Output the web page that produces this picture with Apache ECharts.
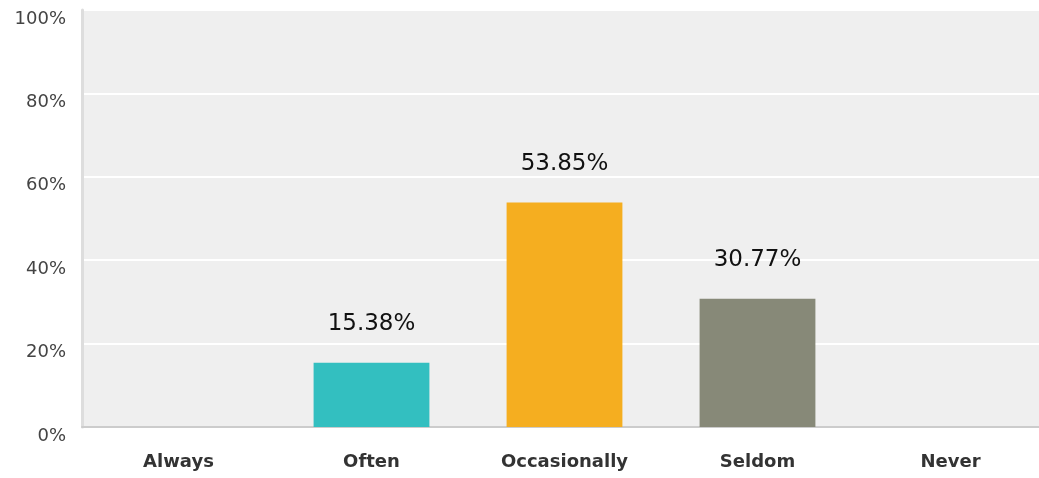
<!DOCTYPE html>
<html>
<head>
<meta charset="utf-8">
<style>
  html, body { margin: 0; padding: 0; background: #fff; overflow: hidden; }
  #chart { width: 1047px; height: 478px; }
</style>
<script src="https://cdn.jsdelivr.net/npm/echarts@6/dist/echarts.min.js"></script>
</head>
<body>
<div id="chart"></div>
<script>
"use strict"

// 数据
const categories = ["Always", "Often", "Occasionally", "Seldom", "Never"];
const percentValues = [0, 15.38, 53.85, 30.77, 0];
const barColors = ["#33bfc0", "#33bfc0", "#f5ae20", "#878978", "#878978"];
const yTicks = [0, 20, 40, 60, 80, 100];

const myChart = echarts.init(document.getElementById("chart"));

const option = {
    animation: false,
    grid: {
        left: 82,
        right: 0,
        top: 10,
        bottom: 51,
        show: true,
        backgroundColor: "#efefef",
        borderWidth: 0
    },
    xAxis: {
        type: "category",
        data: categories,
        axisLine: { show: true, lineStyle: { color: "#cccccc", width: 2 } },
        axisTick: { show: false },
        axisLabel: {
            color: "#333",
            fontFamily: "DejaVu Sans",
            fontWeight: "bold",
            fontSize: 18,
            margin: 26
        }
    },
    yAxis: {
        type: "value",
        min: yTicks[0],
        max: yTicks[yTicks.length - 1],
        interval: 20,
        axisLine: { show: true, lineStyle: { color: "#dddddd", width: 3 } },
        axisTick: { show: false },
        splitLine: { lineStyle: { color: "#ffffff", width: 2 } },
        axisLabel: {
            color: "#444",
            fontFamily: "DejaVu Sans",
            fontSize: 18,
            margin: 16,
            verticalAlign: "top",
            formatter: "{value}%"
        }
    },
    series: [{
        type: "bar",
        barWidth: "60%",
        data: percentValues.map((v, i) => ({
            value: v,
            itemStyle: { color: barColors[i] },
            label: { show: v > 0 }
        })),
        label: {
            position: "top",
            distance: 27,
            color: "#111",
            fontFamily: "DejaVu Sans",
            fontSize: 23,
            formatter: (p) => p.value.toFixed(2) + "%"
        }
    }]
};

myChart.setOption(option);
</script>
</body>
</html>
